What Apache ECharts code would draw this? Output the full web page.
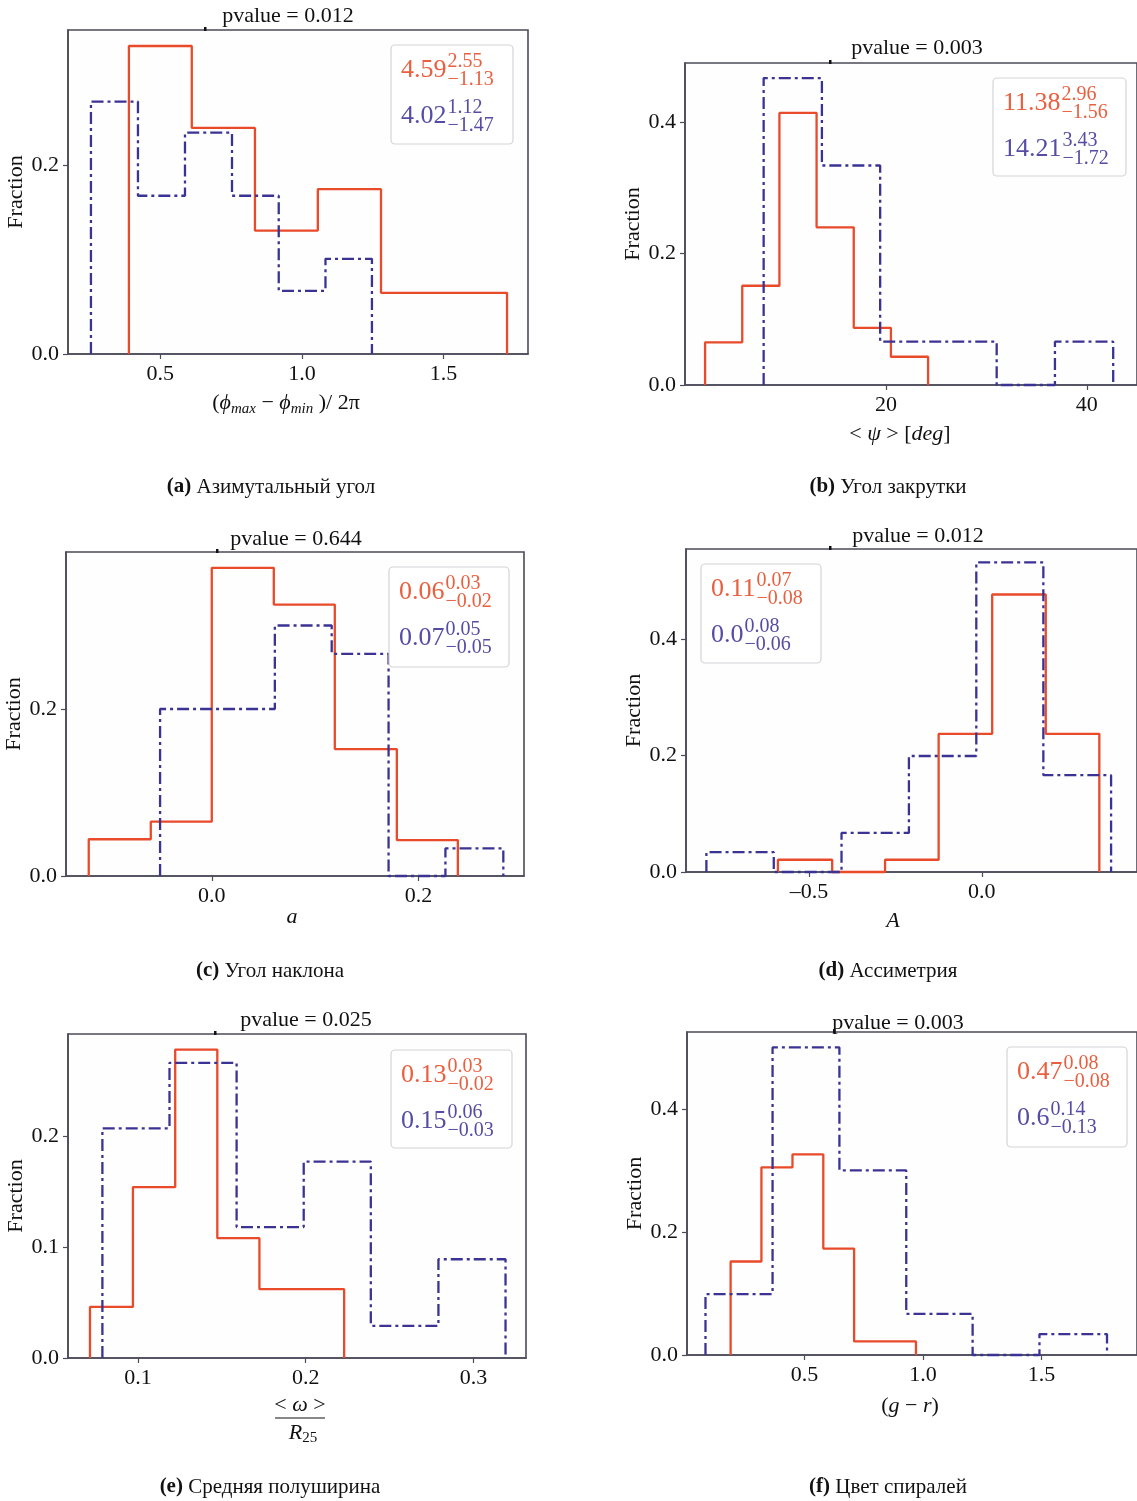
<!DOCTYPE html>
<html><head><meta charset="utf-8">
<script src="https://cdn.jsdelivr.net/npm/echarts@6/dist/echarts.min.js"></script>
<style>html,body{margin:0;padding:0;background:#fff}#c{width:1137px;height:1501px}</style>
</head><body><div id="c"></div><script>
// ---------- DATA ----------
// (a) azimuthal angle
const aRedEdges = [0.389, 0.611, 0.834, 1.056, 1.279, 1.502, 1.724];
const aRedValues = [0.327, 0.240, 0.131, 0.175, 0.065, 0.065];
const aBlueEdges = [0.255, 0.421, 0.587, 0.753, 0.918, 1.083, 1.247];
const aBlueValues = [0.268, 0.168, 0.235, 0.168, 0.067, 0.101];
const aXTicks = [0.5, 1.0, 1.5];
const aYTicks = [0.0, 0.2];
// (b) pitch angle
const bRedEdges = [2.0, 5.7, 9.4, 13.1, 16.8, 20.5, 24.2];
const bRedValues = [0.065, 0.151, 0.414, 0.240, 0.087, 0.043];
const bBlueEdges = [7.83, 13.63, 19.43, 25.23, 31.03, 36.83, 42.63];
const bBlueValues = [0.467, 0.334, 0.066, 0.066, 0.0, 0.066];
const bXTicks = [20, 40];
const bYTicks = [0.0, 0.2, 0.4];
// (c) inclination
const cRedEdges = [-0.119, -0.059, 0.000, 0.060, 0.119, 0.179, 0.238];
const cRedValues = [0.044, 0.065, 0.369, 0.325, 0.152, 0.043];
const cBlueEdges = [-0.050, 0.005, 0.061, 0.116, 0.171, 0.226, 0.282];
const cBlueValues = [0.200, 0.200, 0.300, 0.266, 0.0, 0.033];
const cXTicks = [0.0, 0.2];
const cYTicks = [0.0, 0.2];
// (d) asymmetry
const dRedEdges = [-0.590, -0.433, -0.280, -0.125, 0.030, 0.185, 0.340];
const dRedValues = [0.021, 0.0, 0.021, 0.237, 0.476, 0.237];
const dBlueEdges = [-0.797, -0.602, -0.406, -0.211, -0.016, 0.178, 0.374];
const dBlueValues = [0.034, 0.0, 0.067, 0.199, 0.531, 0.166];
const dXTicks = [-0.5, 0.0];
const dYTicks = [0.0, 0.2, 0.4];
// (e) mean half-width
const eRedEdges = [0.0714, 0.0970, 0.1222, 0.1473, 0.1724, 0.1975, 0.2229];
const eRedValues = [0.046, 0.154, 0.278, 0.108, 0.062, 0.062];
const eBlueEdges = [0.0788, 0.1188, 0.1588, 0.1988, 0.2388, 0.2791, 0.3191];
const eBlueValues = [0.207, 0.266, 0.118, 0.177, 0.029, 0.089];
const eXTicks = [0.1, 0.2, 0.3];
const eYTicks = [0.0, 0.1, 0.2];
// (f) arm colour
const fRedEdges = [0.188, 0.318, 0.449, 0.579, 0.709, 0.840, 0.970];
const fRedValues = [0.152, 0.305, 0.326, 0.173, 0.022, 0.022];
const fBlueEdges = [0.082, 0.365, 0.647, 0.929, 1.209, 1.491, 1.776];
const fBlueValues = [0.099, 0.500, 0.300, 0.067, 0.0, 0.034];
const fXTicks = [0.5, 1.0, 1.5];
const fYTicks = [0.0, 0.2, 0.4];

// texts
const pvalueLabels = ['pvalue = 0.012', 'pvalue = 0.003', 'pvalue = 0.644', 'pvalue = 0.012', 'pvalue = 0.025', 'pvalue = 0.003'];
const captionTags = ['(a)', '(b)', '(c)', '(d)', '(e)', '(f)'];
const captionTexts = ['Азимутальный угол', 'Угол закрутки', 'Угол наклона', 'Ассиметрия', 'Средняя полуширина', 'Цвет спиралей'];
const legendRed = [['4.59', '2.55', '−1.13'], ['11.38', '2.96', '−1.56'], ['0.06', '0.03', '−0.02'], ['0.11', '0.07', '−0.08'], ['0.13', '0.03', '−0.02'], ['0.47', '0.08', '−0.08']];
const legendBlue = [['4.02', '1.12', '−1.47'], ['14.21', '3.43', '−1.72'], ['0.07', '0.05', '−0.05'], ['0.0', '0.08', '−0.06'], ['0.15', '0.06', '−0.03'], ['0.6', '0.14', '−0.13']];

// ---------- STYLE / LAYOUT ----------
const RED = '#E84A2A', BLUE = '#3A3394';
const RED_T = '#E8603F', BLUE_T = '#564CA3';
const AX = '#4B4B5A';
const SERIF = '"Liberation Serif", "Times New Roman", serif';
const TICK_FS = 22;
const panels = [
  {red: [aRedEdges, aRedValues], blue: [aBlueEdges, aBlueValues], xt: aXTicks, yt: aYTicks, fmt: v => v.toFixed(1),
   g: {left: 68, top: 30, width: 460, height: 324}, xMin: 0.174, xMax: 1.798, yMax: 0.344,
   box: {x: 391, y: 45, w: 122, h: 99}, pv: [288, 16], cap: [271, 487], mark: [205, 29]},
  {red: [bRedEdges, bRedValues], blue: [bBlueEdges, bBlueValues], xt: bXTicks, yt: bYTicks, fmt: v => String(Math.round(v)),
   g: {left: 685, top: 63, width: 460, height: 322}, xMin: 0, xMax: 45, yMax: 0.49,
   box: {x: 993, y: 78, w: 133, h: 98}, pv: [917, 48], cap: [888, 487], mark: [830, 62]},
  {red: [cRedEdges, cRedValues], blue: [cBlueEdges, cBlueValues], xt: cXTicks, yt: cYTicks, fmt: v => v.toFixed(1),
   g: {left: 66, top: 552, width: 458, height: 324}, xMin: -0.141, xMax: 0.302, yMax: 0.388,
   box: {x: 389, y: 567, w: 120, h: 100}, pv: [296, 539], cap: [270, 971], mark: [217, 551]},
  {red: [dRedEdges, dRedValues], blue: [dBlueEdges, dBlueValues], xt: dXTicks, yt: dYTicks, fmt: v => (v < 0 ? '–' + Math.abs(v).toFixed(1) : v.toFixed(1)),
   g: {left: 686, top: 549, width: 461, height: 323}, xMin: -0.856, xMax: 0.449, yMax: 0.554,
   box: {x: 701, y: 564, w: 120, h: 99}, pv: [918, 536], cap: [888, 971], mark: [830, 548]},
  {red: [eRedEdges, eRedValues], blue: [eBlueEdges, eBlueValues], xt: eXTicks, yt: eYTicks, fmt: v => v.toFixed(1),
   g: {left: 68, top: 1034, width: 458, height: 324}, xMin: 0.0583, xMax: 0.3313, yMax: 0.292,
   box: {x: 391, y: 1050, w: 121, h: 98}, pv: [306, 1020], cap: [270, 1487], mark: [215, 1033]},
  {red: [fRedEdges, fRedValues], blue: [fBlueEdges, fBlueValues], xt: fXTicks, yt: fYTicks, fmt: v => v.toFixed(1),
   g: {left: 687, top: 1032, width: 464, height: 323}, xMin: 0.004, xMax: 1.9025, yMax: 0.525,
   box: {x: 1007, y: 1047, w: 120, h: 100}, pv: [898, 1023], cap: [888, 1487], mark: [834, 1031]}
];

function stepData(edges, values) {
  const pts = [[edges[0], 0]];
  for (let i = 0; i < values.length; i++) {
    pts.push([edges[i], values[i]]);
    pts.push([edges[i + 1], values[i]]);
  }
  pts.push([edges[edges.length - 1], 0]);
  return pts;
}

const mctx = document.createElement('canvas').getContext('2d');
function fontStr(size, style, weight, fam) {
  return (style || 'normal') + ' ' + (weight || 'normal') + ' ' + size + 'px ' + (fam || SERIF);
}
function tw(t, f) { mctx.font = f; return mctx.measureText(t).width; }

const graphics = [];
function addText(t, x, y, size, opts) {
  opts = opts || {};
  const f = fontStr(size, opts.style, opts.weight, opts.fam);
  graphics.push({type: 'text', x: x, y: y, z: 100, silent: true,
    style: {text: t, font: f, fill: opts.fill || '#111', align: opts.align || 'left', verticalAlign: 'middle',
            textAlign: opts.align || 'left', textVerticalAlign: 'middle'}});
  return tw(t, f);
}
// pieces: [text, size, style, weight, dy]
function composite(pieces, cx, cy, fill) {
  let total = 0;
  const ws = pieces.map(p => { const w = tw(p[0], fontStr(p[1], p[2], p[3])); total += w; return w; });
  let x = cx - total / 2;
  pieces.forEach((p, i) => {
    addText(p[0], x, cy + (p[4] || 0), p[1], {style: p[2], weight: p[3], fill: fill});
    x += ws[i];
  });
}

panels.forEach((p, i) => {
  // legend box
  const b = p.box;
  graphics.push({type: 'rect', z: 90, silent: true, shape: {x: b.x, y: b.y, width: b.w, height: b.h, r: 4},
    style: {fill: 'rgba(255,255,255,0.9)', stroke: '#d4d4d8', lineWidth: 1.2}});
  [[legendRed[i], RED_T, 0], [legendBlue[i], BLUE_T, 46]].forEach(([lg, col, off]) => {
    const mx = b.x + 10;
    const w = addText(lg[0], mx, b.y + 25 + off, 26, {fill: col});
    addText(lg[1], mx + w + 1, b.y + 17 + off, 20, {fill: col});
    addText(lg[2], mx + w + 1, b.y + 35 + off, 20, {fill: col});
  });
  // pvalue title
  addText(pvalueLabels[i], p.pv[0], p.pv[1], 22, {align: 'center', fill: '#111'});
  // caption
  composite([[captionTags[i], 21, 'normal', 'bold'], [' ' + captionTexts[i], 21, 'normal', 'normal']], p.cap[0], p.cap[1], '#111');
  // small top mark
  graphics.push({type: 'rect', z: 100, silent: true, shape: {x: p.mark[0] - 1, y: p.mark[1] - 2, width: 2.5, height: 4}, style: {fill: '#111'}});
});

// x axis names
composite([['(', 22], ['ϕ', 22, 'italic'], ['max', 15, 'italic', 'normal', 6], [' − ', 22], ['ϕ', 22, 'italic'], ['min', 15, 'italic', 'normal', 6], [' )/ 2π', 22]], 286, 403, '#111');
composite([['< ', 22], ['ψ', 22, 'italic'], [' > [', 22], ['deg', 22, 'italic'], [']', 22]], 900, 434, '#111');
composite([['a', 22, 'italic']], 292, 917, '#111');
composite([['A', 22, 'italic']], 893, 921, '#111');
composite([['< ', 22], ['ω', 22, 'italic'], [' >', 22]], 300, 1405, '#111');
graphics.push({type: 'line', z: 100, silent: true, shape: {x1: 275, y1: 1418, x2: 325, y2: 1418}, style: {stroke: '#111', lineWidth: 1.2}});
composite([['R', 22, 'italic'], ['25', 15, 'normal', 'normal', 5]], 303, 1433, '#111');
composite([['(', 22], ['g', 22, 'italic'], [' − ', 22], ['r', 22, 'italic'], [')', 22]], 910, 1406, '#111');

const option = {
  animation: false,
  backgroundColor: '#ffffff',
  grid: panels.map(p => Object.assign({show: true, borderColor: AX, borderWidth: 1.6, backgroundColor: '#fefefe', containLabel: false}, p.g)),
  xAxis: panels.map((p, i) => ({
    type: 'value', gridIndex: i, min: p.xMin, max: p.xMax,
    axisLine: {show: true, onZero: false, lineStyle: {color: AX, width: 1.6}},
    axisTick: {show: true, customValues: p.xt, length: 5, lineStyle: {color: AX, width: 1.2}},
    axisLabel: {show: true, customValues: p.xt, formatter: p.fmt, margin: 9, fontFamily: SERIF, fontSize: TICK_FS, color: '#111'},
    splitLine: {show: false}
  })),
  yAxis: panels.map((p, i) => ({
    type: 'value', gridIndex: i, min: 0, max: p.yMax,
    name: 'Fraction', nameLocation: 'middle', nameGap: 38, nameRotate: 90,
    nameTextStyle: {fontFamily: SERIF, fontSize: 22, color: '#111'},
    axisLine: {show: true, onZero: false, lineStyle: {color: AX, width: 1.6}},
    axisTick: {show: true, customValues: p.yt, length: 5, lineStyle: {color: AX, width: 1.2}},
    axisLabel: {show: true, customValues: p.yt, formatter: v => v.toFixed(1), margin: 9, fontFamily: SERIF, fontSize: TICK_FS, color: '#111'},
    splitLine: {show: false}
  })),
  series: panels.flatMap((p, i) => [
    {type: 'line', name: 'red' + i, xAxisIndex: i, yAxisIndex: i, data: stepData(p.red[0], p.red[1]),
     symbol: 'none', clip: false, z: 3, lineStyle: {color: RED, width: 2.3, type: 'solid'}},
    {type: 'line', name: 'blue' + i, xAxisIndex: i, yAxisIndex: i, data: stepData(p.blue[0], p.blue[1]),
     symbol: 'none', clip: false, z: 4, lineStyle: {color: BLUE, width: 2.3, type: [12, 4, 3, 4]}}
  ]),
  graphic: {elements: graphics}
};
const chart = echarts.init(document.getElementById('c'), null, {renderer: 'canvas'});
chart.setOption(option);
</script></body></html>
